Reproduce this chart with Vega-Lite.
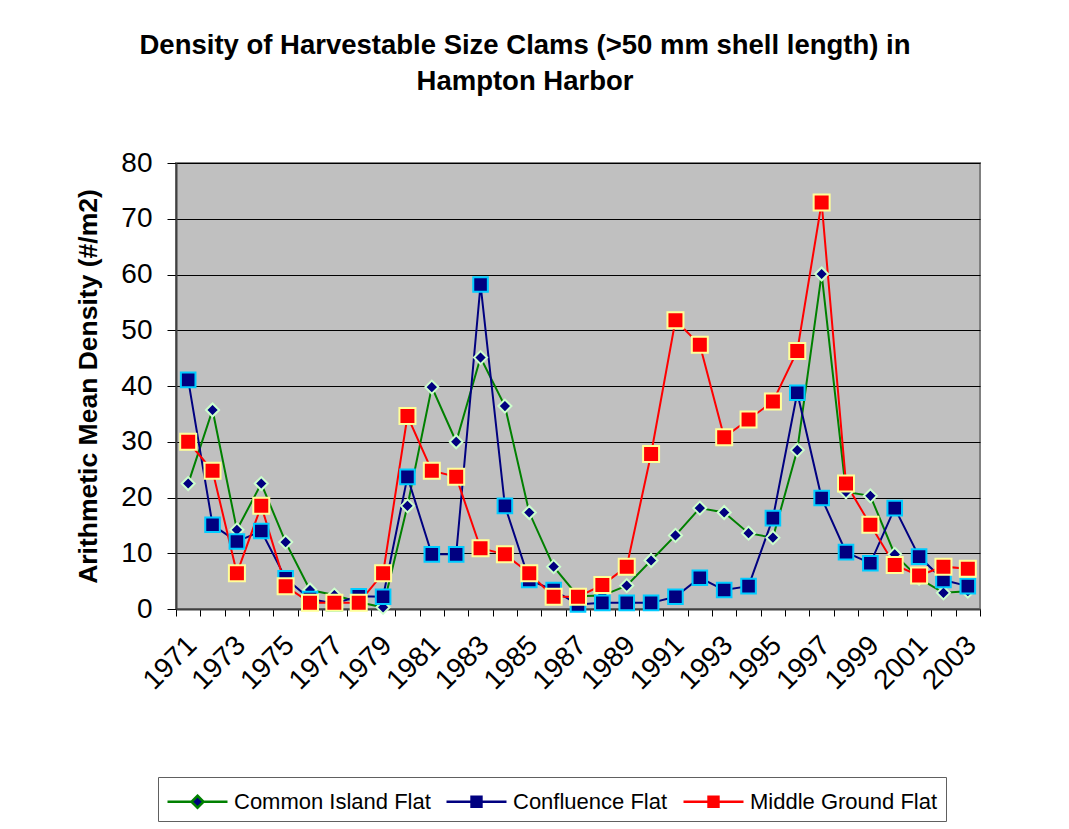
{
  "$schema": "https://vega.github.io/schema/vega-lite/v6.json",
  "width": 804,
  "height": 446,
  "autosize": {"type": "none"},
  "padding": {"left": 176, "top": 163, "right": 89, "bottom": 220},
  "background": "#ffffff",
  "title": {
    "text": ["Density of Harvestable Size Clams (>50 mm shell length) in", "Hampton Harbor"],
    "font": "Liberation Sans",
    "fontSize": 27.5,
    "fontWeight": "bold",
    "lineHeight": 36,
    "color": "#000000",
    "anchor": "middle",
    "frame": "group",
    "dx": -53,
    "offset": 54
  },
  "config": {
    "view": {"fill": "#C0C0C0", "stroke": "#808080", "strokeWidth": 2},
    "axis": {"labelFont": "Liberation Sans", "titleFont": "Liberation Sans", "labelColor": "#000000", "titleColor": "#000000"}
  },
  "data": {
    "values": [
      {"year": 1971, "series": "Common Island Flat", "value": 22.5},
      {"year": 1972, "series": "Common Island Flat", "value": 35.7},
      {"year": 1973, "series": "Common Island Flat", "value": 14.2},
      {"year": 1974, "series": "Common Island Flat", "value": 22.5},
      {"year": 1975, "series": "Common Island Flat", "value": 12.0},
      {"year": 1976, "series": "Common Island Flat", "value": 3.4},
      {"year": 1977, "series": "Common Island Flat", "value": 2.5},
      {"year": 1978, "series": "Common Island Flat", "value": 1.2},
      {"year": 1979, "series": "Common Island Flat", "value": 0.3},
      {"year": 1980, "series": "Common Island Flat", "value": 18.5},
      {"year": 1981, "series": "Common Island Flat", "value": 39.8},
      {"year": 1982, "series": "Common Island Flat", "value": 30.0},
      {"year": 1983, "series": "Common Island Flat", "value": 45.1},
      {"year": 1984, "series": "Common Island Flat", "value": 36.4},
      {"year": 1985, "series": "Common Island Flat", "value": 17.3},
      {"year": 1986, "series": "Common Island Flat", "value": 7.6},
      {"year": 1987, "series": "Common Island Flat", "value": 2.3},
      {"year": 1988, "series": "Common Island Flat", "value": 2.4},
      {"year": 1989, "series": "Common Island Flat", "value": 4.2},
      {"year": 1990, "series": "Common Island Flat", "value": 8.7},
      {"year": 1991, "series": "Common Island Flat", "value": 13.2},
      {"year": 1992, "series": "Common Island Flat", "value": 18.1},
      {"year": 1993, "series": "Common Island Flat", "value": 17.3},
      {"year": 1994, "series": "Common Island Flat", "value": 13.6},
      {"year": 1995, "series": "Common Island Flat", "value": 12.8},
      {"year": 1996, "series": "Common Island Flat", "value": 28.5},
      {"year": 1997, "series": "Common Island Flat", "value": 60.1},
      {"year": 1998, "series": "Common Island Flat", "value": 21.0},
      {"year": 1999, "series": "Common Island Flat", "value": 20.3},
      {"year": 2000, "series": "Common Island Flat", "value": 9.8},
      {"year": 2001, "series": "Common Island Flat", "value": 5.5},
      {"year": 2002, "series": "Common Island Flat", "value": 2.9},
      {"year": 2003, "series": "Common Island Flat", "value": 3.2},
      {"year": 1971, "series": "Confluence Flat", "value": 41.1},
      {"year": 1972, "series": "Confluence Flat", "value": 15.1},
      {"year": 1973, "series": "Confluence Flat", "value": 12.1},
      {"year": 1974, "series": "Confluence Flat", "value": 14.0},
      {"year": 1975, "series": "Confluence Flat", "value": 5.5},
      {"year": 1976, "series": "Confluence Flat", "value": 1.8},
      {"year": 1977, "series": "Confluence Flat", "value": 1.0},
      {"year": 1978, "series": "Confluence Flat", "value": 2.3},
      {"year": 1979, "series": "Confluence Flat", "value": 2.2},
      {"year": 1980, "series": "Confluence Flat", "value": 23.7},
      {"year": 1981, "series": "Confluence Flat", "value": 9.8},
      {"year": 1982, "series": "Confluence Flat", "value": 9.8},
      {"year": 1983, "series": "Confluence Flat", "value": 58.2},
      {"year": 1984, "series": "Confluence Flat", "value": 18.5},
      {"year": 1985, "series": "Confluence Flat", "value": 5.2},
      {"year": 1986, "series": "Confluence Flat", "value": 3.4},
      {"year": 1987, "series": "Confluence Flat", "value": 0.8},
      {"year": 1988, "series": "Confluence Flat", "value": 1.1},
      {"year": 1989, "series": "Confluence Flat", "value": 1.1},
      {"year": 1990, "series": "Confluence Flat", "value": 1.1},
      {"year": 1991, "series": "Confluence Flat", "value": 2.2},
      {"year": 1992, "series": "Confluence Flat", "value": 5.6},
      {"year": 1993, "series": "Confluence Flat", "value": 3.4},
      {"year": 1994, "series": "Confluence Flat", "value": 4.1},
      {"year": 1995, "series": "Confluence Flat", "value": 16.3},
      {"year": 1996, "series": "Confluence Flat", "value": 38.8},
      {"year": 1997, "series": "Confluence Flat", "value": 19.9},
      {"year": 1998, "series": "Confluence Flat", "value": 10.2},
      {"year": 1999, "series": "Confluence Flat", "value": 8.2},
      {"year": 2000, "series": "Confluence Flat", "value": 18.1},
      {"year": 2001, "series": "Confluence Flat", "value": 9.4},
      {"year": 2002, "series": "Confluence Flat", "value": 5.2},
      {"year": 2003, "series": "Confluence Flat", "value": 4.1},
      {"year": 1971, "series": "Middle Ground Flat", "value": 30.0},
      {"year": 1972, "series": "Middle Ground Flat", "value": 24.8},
      {"year": 1973, "series": "Middle Ground Flat", "value": 6.4},
      {"year": 1974, "series": "Middle Ground Flat", "value": 18.5},
      {"year": 1975, "series": "Middle Ground Flat", "value": 4.1},
      {"year": 1976, "series": "Middle Ground Flat", "value": 1.1},
      {"year": 1977, "series": "Middle Ground Flat", "value": 1.1},
      {"year": 1978, "series": "Middle Ground Flat", "value": 1.1},
      {"year": 1979, "series": "Middle Ground Flat", "value": 6.4},
      {"year": 1980, "series": "Middle Ground Flat", "value": 34.6},
      {"year": 1981, "series": "Middle Ground Flat", "value": 24.8},
      {"year": 1982, "series": "Middle Ground Flat", "value": 23.7},
      {"year": 1983, "series": "Middle Ground Flat", "value": 10.9},
      {"year": 1984, "series": "Middle Ground Flat", "value": 9.8},
      {"year": 1985, "series": "Middle Ground Flat", "value": 6.4},
      {"year": 1986, "series": "Middle Ground Flat", "value": 2.2},
      {"year": 1987, "series": "Middle Ground Flat", "value": 2.2},
      {"year": 1988, "series": "Middle Ground Flat", "value": 4.3},
      {"year": 1989, "series": "Middle Ground Flat", "value": 7.6},
      {"year": 1990, "series": "Middle Ground Flat", "value": 27.8},
      {"year": 1991, "series": "Middle Ground Flat", "value": 51.8},
      {"year": 1992, "series": "Middle Ground Flat", "value": 47.4},
      {"year": 1993, "series": "Middle Ground Flat", "value": 30.8},
      {"year": 1994, "series": "Middle Ground Flat", "value": 34.0},
      {"year": 1995, "series": "Middle Ground Flat", "value": 37.2},
      {"year": 1996, "series": "Middle Ground Flat", "value": 46.3},
      {"year": 1997, "series": "Middle Ground Flat", "value": 72.9},
      {"year": 1998, "series": "Middle Ground Flat", "value": 22.5},
      {"year": 1999, "series": "Middle Ground Flat", "value": 15.1},
      {"year": 2000, "series": "Middle Ground Flat", "value": 7.9},
      {"year": 2001, "series": "Middle Ground Flat", "value": 6.0},
      {"year": 2002, "series": "Middle Ground Flat", "value": 7.6},
      {"year": 2003, "series": "Middle Ground Flat", "value": 7.2}
    ]
  },
  "encoding": {
    "x": {
      "field": "year",
      "type": "ordinal",
      "scale": {"type": "band", "paddingInner": 0, "paddingOuter": 0},
      "axis": {
        "title": null,
        "labelAngle": -45,
        "labelFontSize": 28,
        "labelPadding": 15,
        "labelOffset": -6,
        "labelOverlap": false,
        "labelExpr": "datum.value % 2 == 1 ? datum.value : ''",
        "tickBand": "extent",
        "ticks": true,
        "tickSize": 7,
        "tickColor": "#000000",
        "domainColor": "#404040",
        "domainWidth": 2,
        "grid": false
      }
    },
    "y": {
      "field": "value",
      "type": "quantitative",
      "scale": {"domain": [0, 80], "nice": false},
      "axis": {
        "title": "Arithmetic Mean Density (#/m2)",
        "titleFontSize": 26.5,
        "titleFontWeight": "bold",
        "titlePadding": 18,
        "values": [0, 10, 20, 30, 40, 50, 60, 70, 80],
        "labelFontSize": 28,
        "labelPadding": 15,
        "tickSize": 9,
        "tickColor": "#000000",
        "domainColor": "#404040",
        "domainWidth": 2,
        "grid": true,
        "gridColor": "#000000",
        "gridWidth": 1,
        "gridOpacity": 1
      }
    }
  },
  "layer": [
    {
      "mark": {"type": "line", "strokeWidth": 2},
      "encoding": {
        "stroke": {
          "field": "series",
          "type": "nominal",
          "scale": {"domain": ["Common Island Flat", "Confluence Flat", "Middle Ground Flat"], "range": ["#008000", "#000080", "#FF0000"]},
          "legend": null
        }
      }
    },
    {
      "mark": {"type": "point", "filled": true, "opacity": 1, "strokeWidth": 2},
      "encoding": {
        "shape": {
          "field": "series",
          "type": "nominal",
          "scale": {"domain": ["Common Island Flat", "Confluence Flat", "Middle Ground Flat"], "range": ["diamond", "square", "square"]},
          "legend": null
        },
        "fill": {
          "field": "series",
          "type": "nominal",
          "scale": {"domain": ["Common Island Flat", "Confluence Flat", "Middle Ground Flat"], "range": ["#000080", "#000080", "#FF0000"]},
          "legend": null
        },
        "stroke": {
          "field": "series",
          "type": "nominal",
          "scale": {"domain": ["Common Island Flat", "Confluence Flat", "Middle Ground Flat"], "range": ["#CCFFCC", "#00CCFF", "#FFFF99"]},
          "legend": null
        },
        "size": {
          "field": "series",
          "type": "nominal",
          "scale": {"domain": ["Common Island Flat", "Confluence Flat", "Middle Ground Flat"], "range": [170, 256, 256]},
          "legend": null
        }
      }
    },
    {
      "transform": [{"filter": "datum.value < 0"}],
      "mark": {"type": "point", "filled": true, "opacity": 1, "strokeWidth": 2},
      "encoding": {
        "shape": {
          "field": "series",
          "type": "nominal",
          "scale": {"domain": ["Common Island Flat", "Confluence Flat", "Middle Ground Flat"], "range": ["M-1,0H0.6M1.4,0H3M1,-0.4L1.4,0L1,0.4L0.6,0Z", "M-1,0H0.67M1.33,0H3M0.67,-0.33H1.33V0.33H0.67Z", "M-1,0H0.67M1.33,0H3M0.67,-0.33H1.33V0.33H0.67Z"]},
          "legend": {
            "title": null,
            "orient": "none",
            "legendX": -18,
            "legendY": 614,
            "direction": "horizontal",
            "columns": 3,
            "padding": 8,
            "strokeColor": "#606060",
            "labelFont": "Liberation Sans",
            "labelFontSize": 22,
            "labelColor": "#000000",
            "labelLimit": 400,
            "labelOffset": 35,
            "columnPadding": 10,
            "symbolSize": 900,
            "symbolStrokeWidth": 2.5,
            "symbolOpacity": 1
          }
        },
        "fill": {
          "field": "series",
          "type": "nominal",
          "scale": {"domain": ["Common Island Flat", "Confluence Flat", "Middle Ground Flat"], "range": ["#000080", "#000080", "#FF0000"]}
        },
        "stroke": {
          "field": "series",
          "type": "nominal",
          "scale": {"domain": ["Common Island Flat", "Confluence Flat", "Middle Ground Flat"], "range": ["#008000", "#000080", "#FF0000"]}
        }
      }
    }
  ],
  "resolve": {
    "scale": {"stroke": "independent", "shape": "independent", "fill": "independent", "size": "independent"}
  }
}
